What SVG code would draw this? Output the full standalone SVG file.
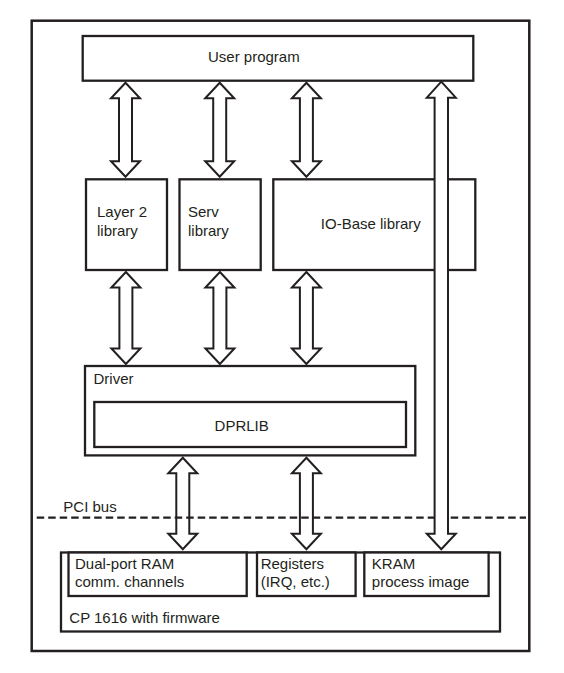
<svg xmlns="http://www.w3.org/2000/svg" width="564" height="673" viewBox="0 0 564 673">
<style>
.box{fill:#fff;stroke:#231f20;stroke-width:2.3}
.frame{fill:none;stroke:#231f20;stroke-width:2.5}
.arr{fill:#fff;stroke:#231f20;stroke-width:2;stroke-linejoin:miter}
.dash{fill:none;stroke:#231f20;stroke-width:2.3;stroke-dasharray:7.5 4}
text{font-family:"Liberation Sans",Arial,sans-serif;font-size:15px;fill:#231f20}
</style>
<rect width="564" height="673" fill="#fff"/>
<rect id="frame" class="frame" x="31.7" y="20.7" width="497.6" height="630.3"/>
<g id="user-program"><rect class="box" x="82.7" y="36" width="390.6" height="44.7"/><text x="208" y="61.5">User program</text></g>
<g id="layer2"><rect class="box" x="86" y="179.3" width="81" height="90.7"/><text x="97" y="217">Layer 2</text><text x="97" y="236">library</text></g>
<g id="serv"><rect class="box" x="179.5" y="179.3" width="81.2" height="90.7"/><text x="188" y="217">Serv</text><text x="188" y="236">library</text></g>
<g id="iobase"><rect class="box" x="273.3" y="179.3" width="202" height="90.7"/><text x="320.8" y="229">IO-Base library</text></g>
<g id="driver"><rect class="box" x="85" y="366" width="330.3" height="89.4"/><text x="93.5" y="383.6">Driver</text></g>
<g id="dprlib"><rect class="box" x="94.3" y="402" width="311.7" height="45"/><text x="241.7" y="430.7" text-anchor="middle">DPRLIB</text></g>
<g id="cp1616"><rect class="box" x="61" y="552.5" width="439" height="79"/><text x="69.3" y="622.7">CP 1616 with firmware</text></g>
<g id="dualport"><rect class="box" x="68.5" y="552.5" width="178.2" height="43.5"/><text x="75" y="569.3">Dual-port RAM</text><text x="75" y="587.3">comm. channels</text></g>
<g id="registers"><rect class="box" x="257" y="552.5" width="98.6" height="43.5"/><text x="260.7" y="569.3">Registers</text><text x="260.7" y="587.3">(IRQ, etc.)</text></g>
<g id="kram"><rect class="box" x="364.3" y="552.5" width="124.3" height="43.5"/><text x="371.8" y="569.3">KRAM</text><text x="371.8" y="587.3">process image</text></g>
<g id="connectors">
<path class="arr" d="M125.5 82.7 L140 98.2 L132 98.2 L132 161.2 L140 161.2 L125.5 176.7 L111 161.2 L119 161.2 L119 98.2 L111 98.2 Z"/>
<path class="arr" d="M219.7 82.7 L234.2 98.2 L226.2 98.2 L226.2 161.2 L234.2 161.2 L219.7 176.7 L205.2 161.2 L213.2 161.2 L213.2 98.2 L205.2 98.2 Z"/>
<path class="arr" d="M306.4 82.7 L320.9 98.2 L312.9 98.2 L312.9 161.2 L320.9 161.2 L306.4 176.7 L291.9 161.2 L299.9 161.2 L299.9 98.2 L291.9 98.2 Z"/>
<path class="arr" d="M125.9 272 L140.4 287.5 L132.4 287.5 L132.4 348.5 L140.4 348.5 L125.9 364 L111.4 348.5 L119.4 348.5 L119.4 287.5 L111.4 287.5 Z"/>
<path class="arr" d="M219.9 272 L234.4 287.5 L226.4 287.5 L226.4 348.5 L234.4 348.5 L219.9 364 L205.4 348.5 L213.4 348.5 L213.4 287.5 L205.4 287.5 Z"/>
<path class="arr" d="M306.4 272 L320.9 287.5 L312.9 287.5 L312.9 348.5 L320.9 348.5 L306.4 364 L291.9 348.5 L299.9 348.5 L299.9 287.5 L291.9 287.5 Z"/>
<path class="arr" d="M182.8 457.7 L197.3 473.2 L189.3 473.2 L189.3 533.8 L197.3 533.8 L182.8 549.3 L168.3 533.8 L176.3 533.8 L176.3 473.2 L168.3 473.2 Z"/>
<path class="arr" d="M306.4 457.7 L320.9 473.2 L312.9 473.2 L312.9 533.8 L320.9 533.8 L306.4 549.3 L291.9 533.8 L299.9 533.8 L299.9 473.2 L291.9 473.2 Z"/>
</g>
<g id="pci"><text x="63.3" y="511.7">PCI bus</text><line class="dash" x1="36.7" y1="517.7" x2="526" y2="517.7"/></g>
<g id="connector-kram">
<path class="arr" d="M441.3 81.7 L455.8 97.7 L448 97.7 L448 533.8 L455.8 533.8 L441.3 549.3 L426.8 533.8 L434.6 533.8 L434.6 97.7 L426.8 97.7 Z"/>
</g>
</svg>
